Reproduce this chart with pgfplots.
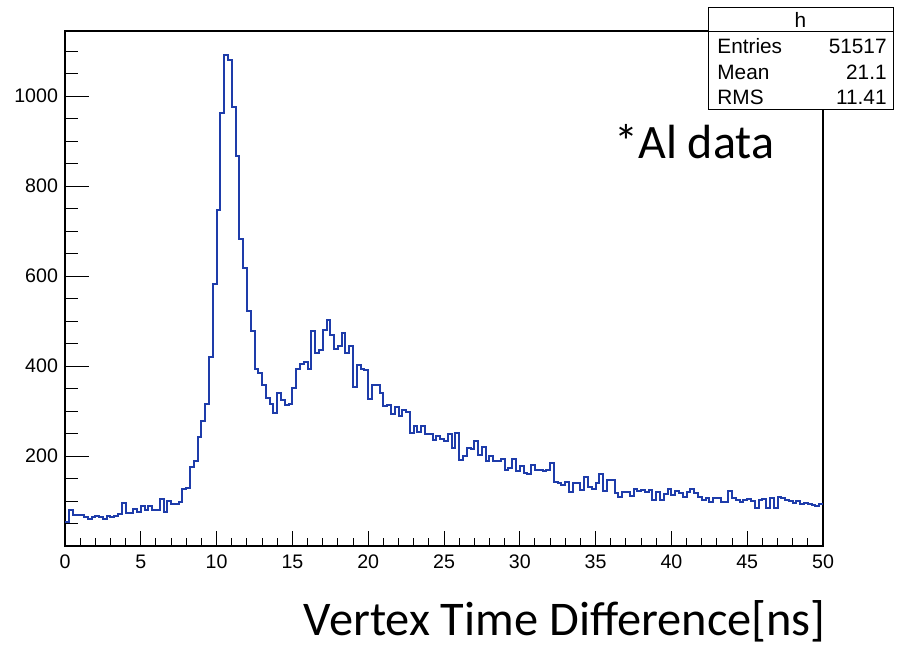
\documentclass[border=0pt]{standalone}
\usepackage{pgfplots}
\pgfplotsset{compat=1.18}
\usepackage{fontspec}
\setmainfont{Liberation Sans}
\newfontfamily\calibri{Carlito}
\definecolor{histblue}{RGB}{30,60,170}
\begin{document}
\begin{tikzpicture}
\begin{scope}[x=0.5pt,y=0.5pt]
\path[use as bounding box] (0,0) rectangle (897,646);
\end{scope}
\begin{axis}[
  at={(32.5pt,50pt)}, anchor=south west,
  width=379pt, height=257.5pt, scale only axis,
  xmin=0, xmax=50, ymin=0, ymax=1145,
  xtick={0,5,...,50}, minor x tick num=4,
  ytick={200,400,...,1000}, minor ytick={50,100,...,1100},
  xtick pos=bottom, ytick pos=left, tick align=inside,
  axis line style={line width=0.6pt},
  every tick/.style={black,line width=0.5pt},
  xtick style={/pgfplots/major tick length=7.5pt,/pgfplots/minor tick length=3.8pt},
  ytick style={/pgfplots/major tick length=12pt,/pgfplots/minor tick length=6.3pt},
  /pgf/number format/assume math mode=true,
  /pgf/number format/1000 sep={},
  ticklabel style={font=\fontsize{9.8pt}{11pt}\selectfont},
  xticklabel style={yshift=-1pt},
  clip=false,
]
\addplot[const plot, histblue, line width=1pt] coordinates {
(0,53)(0.25,79)(0.5,68)(0.75,70)(1,68)(1.25,64)(1.5,61)(1.75,64)(2,67)(2.25,64)
(2.5,61)(2.75,67)(3,64)(3.25,67)(3.5,72)(3.75,96)(4,73)(4.25,73)(4.5,82)(4.75,76)
(5,88)(5.25,80)(5.5,88)(5.75,79)(6,79)(6.25,104)(6.5,76)(6.75,99)(7,94)(7.25,94)
(7.5,98)(7.75,126)(8,129)(8.25,176)(8.5,190)(8.75,243)(9,277)(9.25,315)(9.5,420)(9.75,583)
(10,748)(10.25,963)(10.5,1092)(10.75,1080)(11,975)(11.25,867)(11.5,682)(11.75,619)(12,522)(12.25,478)
(12.5,394)(12.75,384)(13,359)(13.25,328)(13.5,315)(13.75,296)(14,341)(14.25,324)(14.5,313)(14.75,315)
(15,351)(15.25,394)(15.5,405)(15.75,409)(16,393)(16.25,478)(16.5,428)(16.75,435)(17,480)(17.25,502)
(17.5,469)(17.75,439)(18,444)(18.25,473)(18.5,430)(18.75,444)(19,353)(19.25,402)(19.5,394)(19.75,391)
(20,326)(20.25,357)(20.5,357)(20.75,341)(21,311)(21.25,313)(21.5,293)(21.75,309)(22,290)(22.25,302)
(22.5,297)(22.75,252)(23,267)(23.25,254)(23.5,267)(23.75,248)(24,248)(24.25,236)(24.5,244)(24.75,237)
(25,233)(25.25,248)(25.5,217)(25.75,252)(26,191)(26.25,200)(26.5,217)(26.75,215)(27,233)(27.25,202)
(27.5,221)(27.75,188)(28,200)(28.25,188)(28.5,188)(28.75,194)(29,170)(29.25,173)(29.5,194)(29.75,166)
(30,178)(30.25,163)(30.5,161)(30.75,181)(31,170)(31.25,170)(31.5,167)(31.75,170)(32,184)(32.25,142)
(32.5,139)(32.75,136)(33,142)(33.25,121)(33.5,141)(33.75,139)(34,124)(34.25,154)(34.5,132)(34.75,126)
(35,139)(35.25,159)(35.5,122)(35.75,146)(36,146)(36.25,118)(36.5,110)(36.75,120)(37,119)(37.25,111)
(37.5,126)(37.75,122)(38,124)(38.25,119)(38.5,124)(38.75,102)(39,120)(39.25,102)(39.5,115)(39.75,126)
(40,113)(40.25,122)(40.5,117)(40.75,110)(41,120)(41.25,126)(41.5,117)(41.75,110)(42,102)(42.25,107)
(42.5,98)(42.75,107)(43,107)(43.25,98)(43.5,98)(43.75,122)(44,107)(44.25,102)(44.5,98)(44.75,102)
(45,105)(45.25,100)(45.5,85)(45.75,102)(46,105)(46.25,85)(46.5,107)(46.75,85)(47,110)(47.25,107)
(47.5,102)(47.75,100)(48,96)(48.25,100)(48.5,94)(48.75,96)(49,93)(49.25,92)(49.5,90)(49.75,94)
(50,94)
};
\end{axis}
\begin{scope}[x=0.5pt,y=0.5pt]
% statistics box
\draw[fill=white,line width=0.5pt] (708,536) rectangle (893,638);
\draw[line width=0.5pt] (708,614) -- (893,614);
\begin{scope}[every node/.style={font=\fontsize{10.4pt}{12pt}\selectfont,inner sep=0pt}]
\node at (800.5,626) {h};
\node[anchor=west] at (717,600) {Entries};
\node[anchor=east] at (887,600) {51517};
\node[anchor=west] at (717,574) {Mean};
\node[anchor=east] at (887,574) {21.1};
\node[anchor=west] at (717,549) {RMS};
\node[anchor=east] at (887,549) {11.41};
\end{scope}
\node[font=\calibri\fontsize{24pt}{28pt}\selectfont,anchor=west,inner sep=0pt] at (614,504) {*Al data};
\node[font=\calibri\fontsize{24.2pt}{28pt}\selectfont,anchor=east,inner sep=0pt] at (826,25) {Vertex Time Difference[ns]};
\end{scope}
\end{tikzpicture}
\end{document}
